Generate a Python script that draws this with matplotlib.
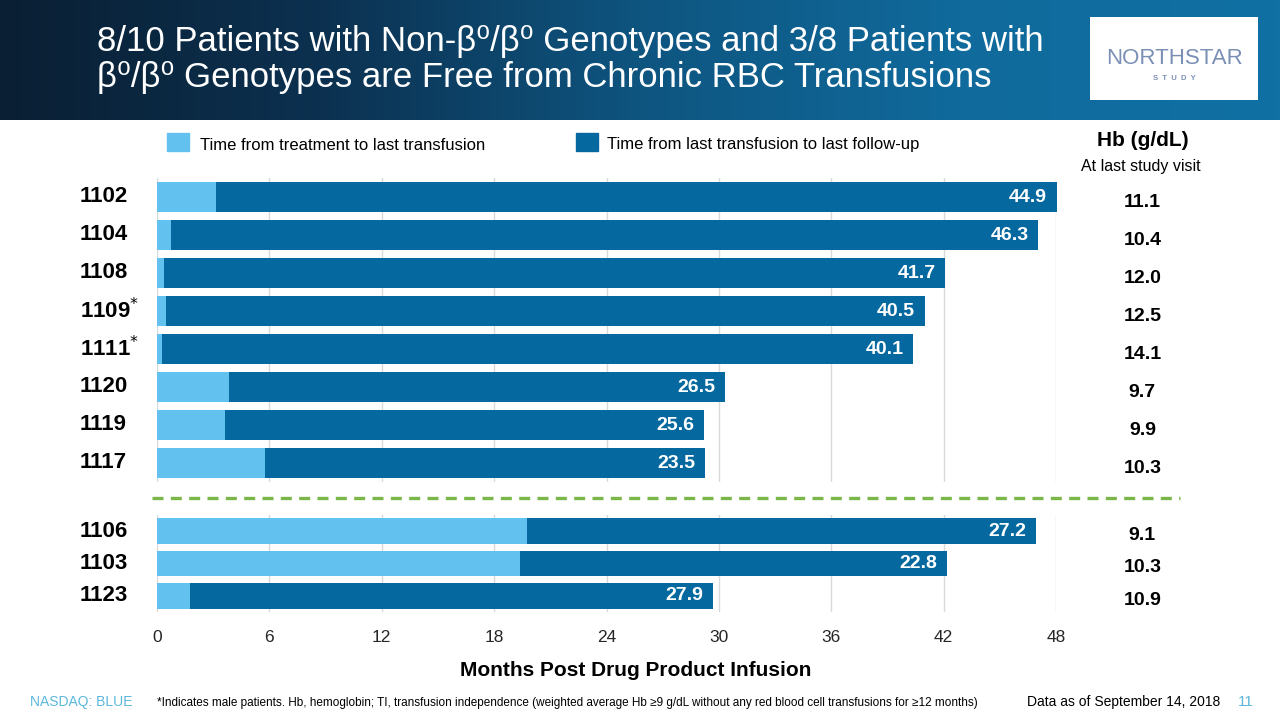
import numpy as np
import matplotlib
matplotlib.use("Agg")
import matplotlib.pyplot as plt
from matplotlib import transforms

plt.rcParams['font.family'] = ['Liberation Sans', 'DejaVu Sans']

# --- data (months) ---
top_ids = ['1102', '1104', '1108', '1109', '1111', '1120', '1119', '1117']
top_male = [False, False, False, True, True, False, False, False]
top_to_last_tx = [3.15, 0.75, 0.4, 0.5, 0.27, 3.84, 3.63, 5.77]
top_after_tx = [44.9, 46.3, 41.7, 40.5, 40.1, 26.5, 25.6, 23.5]
top_hb = ['11.1', '10.4', '12.0', '12.5', '14.1', '9.7', '9.9', '10.3']

bot_ids = ['1106', '1103', '1123']
bot_to_last_tx = [19.75, 19.38, 1.76]
bot_after_tx = [27.2, 22.8, 27.9]
bot_hb = ['9.1', '10.3', '10.9']

x_ticks = [0, 6, 12, 18, 24, 30, 36, 42, 48]

LIGHT = '#63c1ef'
DARK = '#05699f'
GRID = '#d9d9d9'


def draw_panel(ax, ids, light, dark, hb, male=None, height=0.79, hb_off=0.15):
    ''' stacked horizontal bars + patient labels + Hb column '''
    y = np.arange(len(ids))
    ax.barh(y, light, height=height, color=LIGHT, zorder=2)
    ax.barh(y, dark, left=light, height=height, color=DARK, zorder=2, clip_on=False)
    ax.set_xlim(0, 48)
    ax.set_ylim(len(ids) - 0.5, -0.5)
    ax.set_xticks(x_ticks)
    ax.grid(axis='x', color=GRID, lw=1, zorder=0)
    ax.set_yticks([])
    for s in ax.spines.values():
        s.set_visible(False)
    ax.tick_params(length=0)
    trans = transforms.blended_transform_factory(fig.transFigure, ax.transData)
    for i in range(len(ids)):
        end = light[i] + dark[i]
        ax.annotate('{0}'.format(dark[i]), (end, y[i]), xytext=(-7, 0),
                    textcoords='offset points', ha='right', va='center',
                    color='white', fontsize=14, weight='bold', zorder=3,
                    annotation_clip=False)
        lab = ids[i]
        if male is not None and male[i]:
            lab = lab + '$^{*}$'
        ax.text(0.0625, y[i], lab, transform=trans, ha='left', va='center',
                fontsize=16, weight='bold', color='black')
        ax.text(0.8925, y[i] + hb_off, hb[i], transform=trans, ha='center',
                va='center', fontsize=14, weight='bold', color='black')


fig = plt.figure(figsize=(12.8, 7.2), dpi=100)

# header banner with gradient
hdr = fig.add_axes([0, 1 - 120 / 720, 1, 120 / 720])
grad = np.linspace(0, 1, 256).reshape(1, -1)
cmap = matplotlib.colors.LinearSegmentedColormap.from_list(
    'hdr', ['#0a1f33', '#0c3150', '#0e5580', '#106a9c', '#1170a3'])
hdr.imshow(grad, aspect='auto', cmap=cmap, extent=[0, 1, 0, 1])
hdr.set_axis_off()
fig.text(97 / 1280, 1 - 42 / 720,
         '8/10 Patients with Non-β\u2070/β\u2070 Genotypes and 3/8 Patients with',
         color='white', fontsize=25, va='center', ha='left')
fig.text(97 / 1280, 1 - 77 / 720,
         'β\u2070/β\u2070 Genotypes are Free from Chronic RBC Transfusions',
         color='white', fontsize=25, va='center', ha='left')

# logo box
fig.patches.append(plt.Rectangle((1090 / 1280, 1 - 100 / 720), 168 / 1280, 83 / 720,
                                 transform=fig.transFigure, facecolor='white',
                                 edgecolor='none', zorder=3))
fig.text(1174 / 1280, 1 - 58 / 720, 'NORTHSTAR', color='#7a8fb5', fontsize=16,
         ha='center', va='center', zorder=4)
fig.text(1174 / 1280, 1 - 78 / 720, 'S  T  U  D  Y', color='#7a8fb5', fontsize=5.5,
         ha='center', va='center', zorder=4, weight='bold')

# bar panels
ax1 = fig.add_axes([157 / 1280, 1 - 482 / 720, 899 / 1280, 304 / 720])
draw_panel(ax1, top_ids, top_to_last_tx, top_after_tx, top_hb, male=top_male,
           height=0.79, hb_off=0.15)
ax1.set_xticklabels([])

ax2 = fig.add_axes([157 / 1280, 1 - 612 / 720, 899 / 1280, 97 / 720])
draw_panel(ax2, bot_ids, bot_to_last_tx, bot_after_tx, bot_hb,
           height=0.8, hb_off=0.13)
ax2.tick_params(axis='x', pad=13, labelsize=12.5, labelcolor='#262626')

# dashed separator
fig.add_artist(plt.Line2D([152 / 1280, 1180 / 1280], [1 - 498 / 720, 1 - 498 / 720],
                          transform=fig.transFigure, color='#7ab648', lw=2.4,
                          dashes=(3.3, 2.2)))

# legend
fig.patches.append(plt.Rectangle((167 / 1280, 1 - 151 / 720), 22 / 1280, 18 / 720,
                                 transform=fig.transFigure, color=LIGHT))
fig.text(200 / 1280, 1 - 145 / 720, 'Time from treatment to last transfusion',
         fontsize=12, va='center', ha='left')
fig.patches.append(plt.Rectangle((576 / 1280, 1 - 151 / 720), 22 / 1280, 18 / 720,
                                 transform=fig.transFigure, color=DARK))
fig.text(607 / 1280, 1 - 144 / 720, 'Time from last transfusion to last follow-up',
         fontsize=12, va='center', ha='left')

fig.text(1143 / 1280, 1 - 141 / 720, 'Hb (g/dL)', fontsize=15, weight='bold',
         ha='center', va='center')
fig.text(1141 / 1280, 1 - 166 / 720, 'At last study visit', fontsize=11.5,
         ha='center', va='center')

fig.text(636 / 1280, 1 - 670 / 720, 'Months Post Drug Product Infusion',
         fontsize=15, weight='bold', ha='center', va='center')

# footer
fig.text(30 / 1280, 1 - 702 / 720, 'NASDAQ: BLUE', color='#5ab8dc', fontsize=10,
         ha='left', va='center')
fig.text(157 / 1280, 1 - 703 / 720,
         '*Indicates male patients. Hb, hemoglobin; TI, transfusion independence '
         '(weighted average Hb \u22659 g/dL without any red blood cell transfusions for \u226512 months)',
         fontsize=8.5, ha='left', va='center')
fig.text(1027 / 1280, 1 - 702 / 720, 'Data as of September 14, 2018', fontsize=10,
         ha='left', va='center')
fig.text(1238 / 1280, 1 - 702 / 720, '11', color='#5ab8dc', fontsize=11,
         ha='left', va='center')

fig.savefig('out.png', dpi=100)
